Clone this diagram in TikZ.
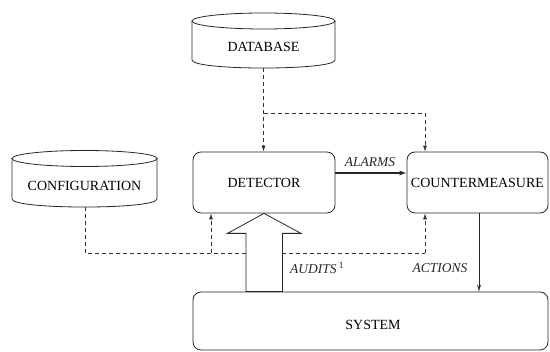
\documentclass[tikz,border=0pt]{standalone}
\usepackage{fontspec}
\setmainfont{Liberation Serif}
\newfontfamily\timesf{Liberation Serif}
\usetikzlibrary{arrows.meta,calc}
\begin{document}
\begin{tikzpicture}[x=1pt,y=-1pt,
  box/.style={draw=black!85,line width=0.8pt,rounded corners=8pt,font=\timesf\fontsize{14}{16}\selectfont,inner sep=0pt},
  cyl/.style={draw=black!85,line width=0.8pt},
  cyltext/.style={font=\timesf\fontsize{14}{16}\selectfont,inner sep=0pt},
  lbl/.style={font=\timesf\fontsize{13.5}{15}\selectfont\itshape,inner sep=0pt,text=black!85},
  dashline/.style={draw=black!80,line width=0.7pt,dash pattern=on 4pt off 3pt},
  dasharrow/.style={dashline,-{Latex[length=6pt,width=4pt]}},
  alarm/.style={draw=black!85,line width=2pt,-{Latex[length=7pt,width=5pt]}},
  act/.style={draw=black!85,line width=0.6pt,-{Stealth[open,length=7pt,width=4pt]}},
  hollow/.style={draw=black!85,line width=0.8pt,fill=white,line join=miter}
]
\useasboundingbox (0,0) rectangle (550,352);

% DATABASE cylinder
\draw[cyl] (263.5,21) ellipse [x radius=71.5, y radius=8];
\draw[cyl] (192,21) -- (192,60) .. controls (192,70.7) and (335,70.7) .. (335,60) -- (335,21);
\node[cyltext] (db) at (263.5,47) {DATABASE};
\coordinate (dbb) at (263.5,68);

% CONFIGURATION cylinder
\draw[cyl] (84.5,158.5) ellipse [x radius=72.5, y radius=8];
\draw[cyl] (12,158.5) -- (12,199) .. controls (12,209.7) and (157,209.7) .. (157,199) -- (157,158.5);
\node[cyltext] (cfg) at (84.5,186) {CONFIGURATION};
\coordinate (cfgb) at (85,207);

% boxes
\node[box,minimum width=142pt,minimum height=61pt] (det) at (264,182.5) {DETECTOR};
\node[box,minimum width=141pt,minimum height=61pt] (cm) at (477.5,182.5) {COUNTERMEASURE};
\node[box,minimum width=355pt,minimum height=58pt] (sys) at (370.5,321) {};
\node[cyltext] (systxt) at (373,325) {SYSTEM};

% helper coordinates
\coordinate (dbsplit) at (263.5,113);
\coordinate (cmx) at (425,0);
\coordinate (detx) at (211,0);
\coordinate (low) at (0,253);
\coordinate (ay) at (0,173);
\coordinate (ax) at (479,0);
\coordinate (shl) at (246,0);
\coordinate (shr) at (282,0);

% dashed from database
\draw[dasharrow] (dbb) -- (det.north -| dbb);
\draw[dashline] (dbsplit) -- (dbsplit -| cmx);
\draw[dasharrow] (dbsplit -| cmx) -- (cm.north -| cmx);

% dashed from configuration
\draw[dashline] (cfgb) -- (cfgb |- low) -- (shl |- low);
\draw[dasharrow] (detx |- low) -- (det.south -| detx);
\draw[dashline] (shr |- low) -- (cmx |- low);
\draw[dasharrow] (cmx |- low) -- (cm.south -| cmx);

% alarms
\draw[alarm] (det.east |- ay) -- (cm.west |- ay);
\node[lbl,anchor=south] (alarms) at (370,167) {ALARMS};

% audits hollow arrow
\draw[hollow] (det.south) -- ($(det.south)+(37,20)$) -- ($(det.south)+(18.5,20)$)
  -- ($(sys.north -| det.south)+(18.5,0)$) -- ($(sys.north -| det.south)+(-18,0)$)
  -- ($(det.south)+(-18,20)$) -- ($(det.south)+(-36.5,20)$) -- cycle;
\node[lbl,anchor=west] (audits) at (290,268) {AUDITS\,\textsuperscript{\upshape 1}};

% actions
\draw[act] (cm.south -| ax) -- (sys.north -| ax);
\node[lbl] (actions) at (440,268) {ACTIONS};
\end{tikzpicture}
\end{document}
